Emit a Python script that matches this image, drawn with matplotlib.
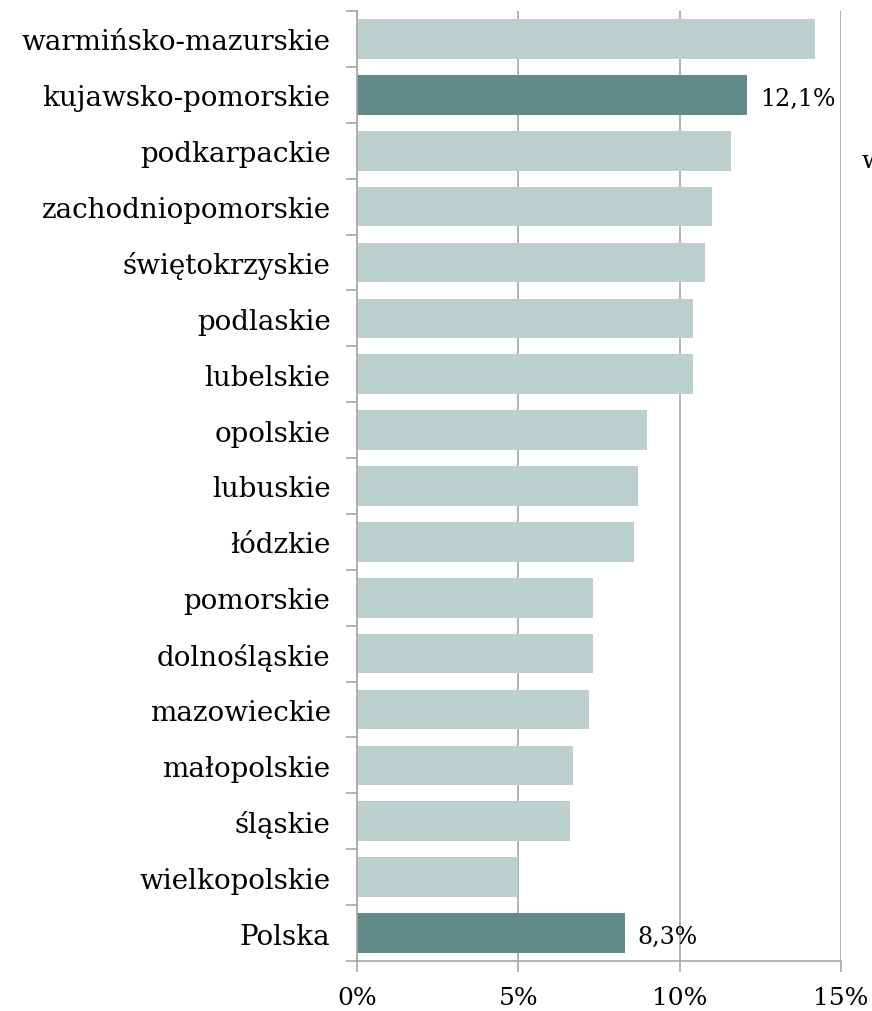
import matplotlib.pyplot as plt
import numpy as np

plt.rcParams["font.family"] = ["DejaVu Serif"]

regions = ["warmińsko-mazurskie", "kujawsko-pomorskie", "podkarpackie",
           "zachodniopomorskie", "świętokrzyskie", "podlaskie", "lubelskie",
           "opolskie", "lubuskie", "łódzkie", "pomorskie", "dolnośląskie",
           "mazowieckie", "małopolskie", "śląskie", "wielkopolskie", "Polska"]
values = [14.2, 12.1, 11.6, 11.0, 10.8, 10.4, 10.4, 9.0, 8.7, 8.6,
          7.3, 7.3, 7.2, 6.7, 6.6, 5.0, 8.3]
highlight = ["kujawsko-pomorskie", "Polska"]
xticks = [0, 5, 10, 15]

light = "#bbcfcd"
dark = "#628a88"
grid_col = "#a6a6a6"

fig = plt.figure(figsize=(8.72, 10.12), dpi=100)
ax = fig.add_axes([357 / 872, 1 - 962 / 1012, (841 - 357) / 872, 950 / 1012])

n = len(regions)
y = np.arange(n)
colors = [dark if r in highlight else light for r in regions]
ax.barh(y, values, height=0.71, color=colors, zorder=2)

# data labels on the highlighted bars
for i, (r, v) in enumerate(zip(regions, values)):
    if r in highlight:
        ax.text(v + 0.4, i + 0.06, f"{v:.1f}%".replace(".", ","),
                va="center", ha="left", fontsize=17, zorder=3)

ax.set_ylim(n - 0.5, -0.5)
ax.set_xlim(0, 15)
ax.set_yticks(y)
ax.set_yticklabels(regions, fontsize=20)
ax.set_yticks(np.arange(n + 1) - 0.5, minor=True)
ax.tick_params(axis="y", which="major", length=0, pad=19)
ax.tick_params(axis="y", which="minor", length=8, color=grid_col, width=1.2)

ax.set_xticks(xticks)
ax.set_xticklabels([f"{t}%" for t in xticks], fontsize=18)
ax.tick_params(axis="x", length=8, color=grid_col, width=1.2, pad=10)
ax.xaxis.grid(True, color=grid_col, linewidth=1.2, zorder=1)
ax.set_axisbelow(True)

for s in ["top", "right"]:
    ax.spines[s].set_visible(False)
for s in ["left", "bottom"]:
    ax.spines[s].set_color(grid_col)
    ax.spines[s].set_linewidth(1.2)

# cut-off text at the right edge, as in the original
fig.text(862 / 872, 1 - 162 / 1012, "w", fontsize=18, va="center", ha="left")

fig.savefig("out.png", dpi=100)
